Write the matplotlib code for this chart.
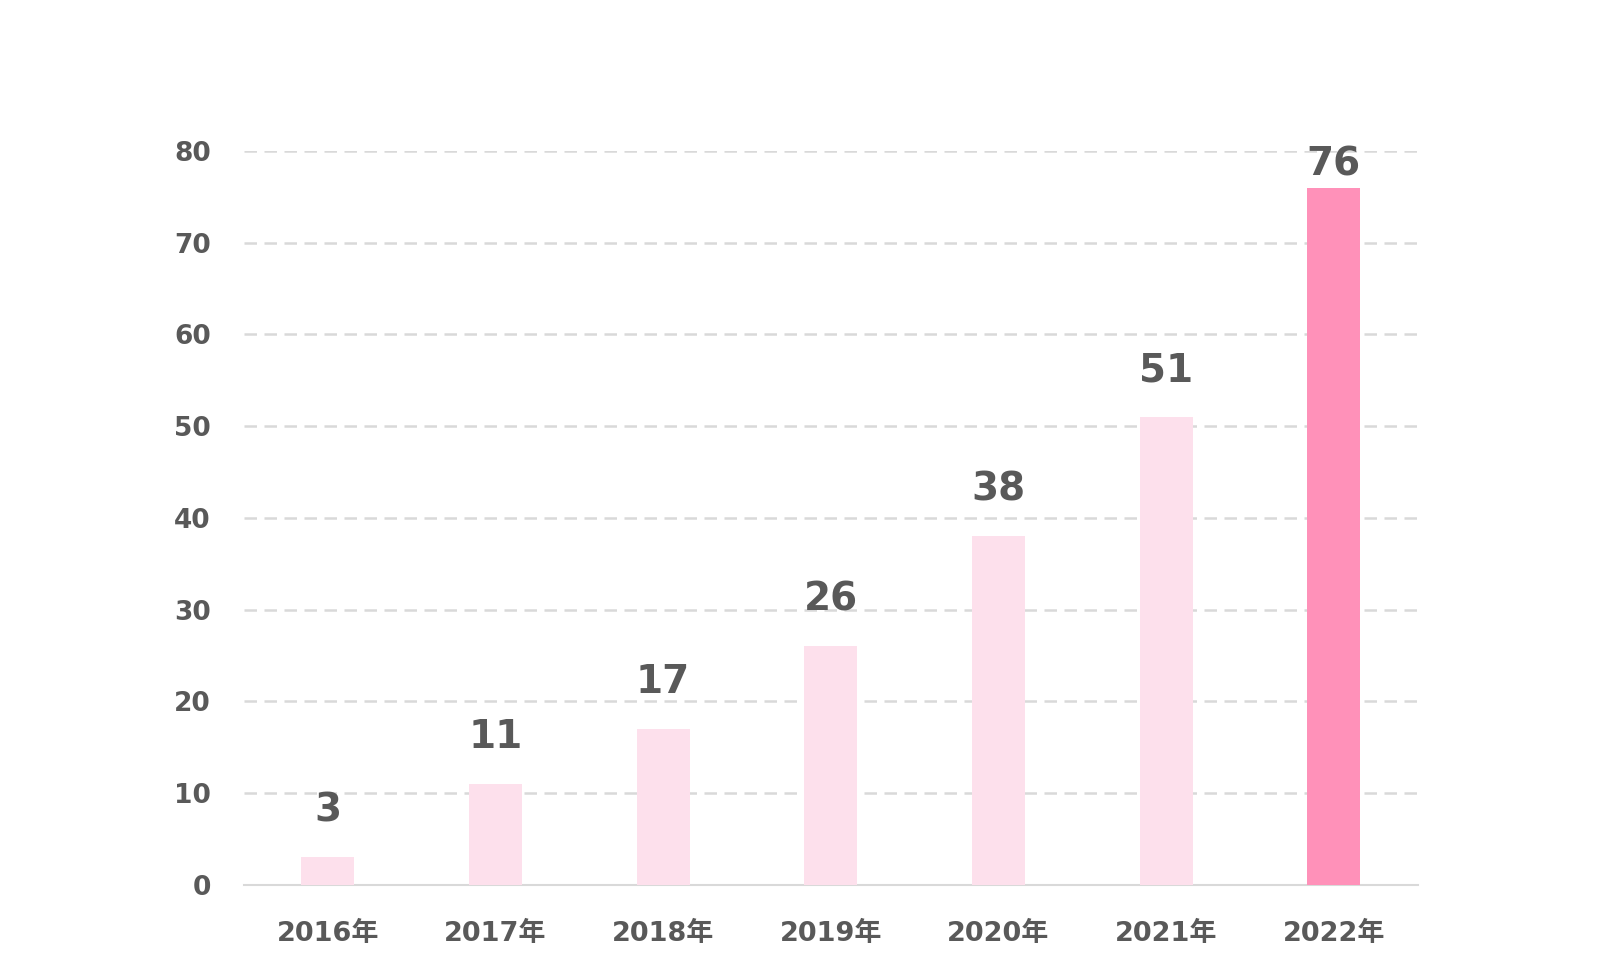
import matplotlib
matplotlib.use("Agg")
import matplotlib.pyplot as plt

plt.rcParams['font.family'] = ['DejaVu Sans', 'Noto Sans CJK JP']

years = ['2016年', '2017年', '2018年', '2019年', '2020年', '2021年', '2022年']
values = [3, 11, 17, 26, 38, 51, 76]
yticks = [0, 10, 20, 30, 40, 50, 60, 70, 80]

TEXT = '#595959'
LIGHT = '#FDE0EC'
DARK = '#FF91B9'
GRID = '#D9D9D9'

fig = plt.figure(figsize=(16, 9.72), dpi=100)
ax = fig.add_axes([0.1525, 0.0895, 0.7335, 0.7552])

colors = [LIGHT] * (len(values) - 1) + [DARK]
x = range(len(years))
bars = ax.bar(x, values, width=0.316, color=colors, zorder=3)

# labels sit above the bars, but the top one is pulled down inside the frame
for b, v in zip(bars, values):
    ax.text(b.get_x() + b.get_width() / 2, min(v + 3.05, 76.5), str(v),
            ha='center', va='bottom', fontsize=28, fontweight='bold', color=TEXT)

ax.set_xlim(-0.5, len(years) - 0.5)
ax.set_ylim(0, 80)
ax.set_yticks(yticks)
ax.set_xticks(list(x))
ax.set_xticklabels(years)
ax.yaxis.grid(True, color=GRID, linestyle=(0, (5, 3)), linewidth=1.8, zorder=0)
ax.set_axisbelow(True)

for s in ['top', 'right', 'left']:
    ax.spines[s].set_visible(False)
ax.spines['bottom'].set_color(GRID)
ax.spines['bottom'].set_linewidth(1.5)

ax.tick_params(axis='both', length=0, labelcolor=TEXT)
ax.tick_params(axis='y', pad=24, labelsize=19)
ax.tick_params(axis='x', pad=26, labelsize=19.5)
for lab in ax.get_xticklabels() + ax.get_yticklabels():
    lab.set_fontweight('bold')

fig.savefig('out.png', dpi=100, facecolor='white')
